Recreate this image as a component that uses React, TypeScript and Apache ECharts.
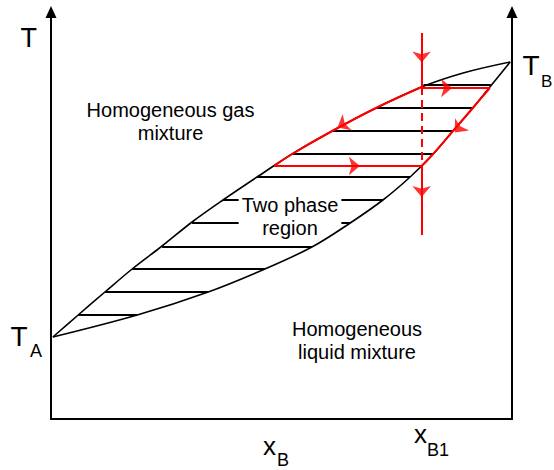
import React, { useEffect, useRef } from "react";
import * as echarts from "echarts";

// composition of the mixture that is followed (x_B1), in % B
const X_B1 = 80.4;

// vapour (dew-point) curve: composition x_B (%) and temperature T (arbitrary units)
const upperCurveX = [0.4, 5.9, 11.7, 17.6, 24.1, 30.6, 37.3, 44.7, 52.3, 61.0, 70.5, 80.4, 89.4, 99.6];
const upperCurveT = [20.5, 26, 31.75, 37.5, 43.25, 49.25, 54.75, 60.5, 66.25, 72, 77.75, 83, 86.5, 89.25];

// liquid (bubble-point) curve
const lowerCurveX = [0.4, 18.7, 34.1, 46.4, 56.6, 64.9, 72.0, 77.9, 82.9, 87.2, 91.5, 95.2, 99.6];
const lowerCurveT = [20.5, 26, 31.75, 37.5, 43, 49, 54.75, 60.5, 66.25, 72, 77.75, 83, 89.25];

// horizontal tie lines in the two-phase region
const tieT = [26, 31.75, 37.5, 43, 49, 54.75, 60.5, 66.25, 72, 77.75, 83.5];
const tieLeftX = [5.9, 11.7, 17.6, 24.1, 30.6, 37.3, 44.7, 52.3, 61.0, 70.5, 80.8];
const tieRightX = [18.7, 34.1, 46.4, 56.6, 64.9, 72.0, 77.9, 82.9, 87.2, 91.5, 95.4];

// red cycle
const redUpperX = [48.4, 52.3, 61.0, 70.5, 80.4];
const redUpperT = [63.25, 66.25, 72, 77.75, 83];
const redLowerX = [80.4, 82.9, 87.2, 91.5, 95.2];
const redLowerT = [63.25, 66.25, 72, 77.75, 82.75];
const redTopT = 82.75;
const redTopRightX = 95.2;
const redBottomT = 63.25;
const redBottomLeftX = 48.4;
const redVerticalTopT = 96.5;
const redVerticalDashTopT = 83;
const redVerticalBottomT = 46;

// arrow heads on the red path: [x, T, rotation deg]
const arrowX = [X_B1, X_B1, 87.0, 67.0, 62.15, 87.6];
const arrowT = [89.1, 55.5, 82.75, 63.25, 72.9, 71.6];
const arrowRot = [180, 180, -90, -90, 118.7, 139];

const FONT = '"Liberation Sans", Arial, sans-serif';

const zip = (xs: number[], ys: number[]) => xs.map((x, i) => [x, ys[i]]);

function txt(text: string, x: number, y: number, size: number, align: string, vAlign: string, extra: any = {}, z = 100) {
  return {
    type: "text",
    x,
    y,
    z,
    silent: true,
    style: {
      text,
      font: `${size}px ${FONT}`,
      fill: "#000",
      align,
      verticalAlign: vAlign,
      textAlign: align,
      textVerticalAlign: vAlign,
      ...extra,
    },
  };
}

export default function App() {
  const ref = useRef<HTMLDivElement>(null);
  useEffect(() => {
    if (!ref.current) return;
    const chart = echarts.init(ref.current, null, { renderer: "svg" });
    const axisStyle = { color: "#000", width: 2 };
    const yAxisBase = {
      type: "value",
      min: 0,
      max: 101.75,
      axisLine: {
        show: true,
        onZero: false,
        symbol: ["none", "triangle"],
        symbolSize: [11, 12],
        lineStyle: axisStyle,
      },
      axisTick: { show: false },
      axisLabel: { show: false },
      splitLine: { show: false },
    };
    const ties = tieT.map((t, i) => ({ coords: [[tieLeftX[i], t], [tieRightX[i], t]] }));
    const redSolid = { color: "#ff0000", width: 2, type: "solid" };
    const redDashed = { color: "#ff0000", width: 2, type: [8, 5] };
    const curve = (xs: number[], ts: number[], color: string, width: number, z: number) => ({
      type: "line",
      data: zip(xs, ts),
      smooth: 0.35,
      showSymbol: false,
      silent: true,
      lineStyle: { color, width },
      z,
    });
    chart.setOption({
      animation: false,
      backgroundColor: "#fff",
      grid: { left: 51, right: 42, top: 12, bottom: 51, containLabel: false, outerBoundsMode: "none" },
      xAxis: {
        type: "value",
        min: 0,
        max: 100,
        axisLine: { show: true, onZero: false, lineStyle: axisStyle },
        axisTick: { show: false },
        axisLabel: { show: false },
        splitLine: { show: false },
      },
      yAxis: [
        { ...yAxisBase, position: "left" },
        { ...yAxisBase, position: "right" },
      ],
      series: [
        curve(upperCurveX, upperCurveT, "#000", 1.6, 5),
        curve(lowerCurveX, lowerCurveT, "#000", 1.6, 5),
        {
          type: "lines",
          coordinateSystem: "cartesian2d",
          data: ties,
          silent: true,
          lineStyle: { color: "#000", width: 1.8, opacity: 1 },
          z: 1,
        },
        curve(redUpperX, redUpperT, "#ff0000", 2, 6),
        curve(redLowerX, redLowerT, "#ff0000", 2, 6),
        {
          type: "lines",
          coordinateSystem: "cartesian2d",
          silent: true,
          z: 6,
          lineStyle: { color: "#ff0000", width: 2, opacity: 1 },
          data: [
            { coords: [[X_B1, redTopT], [redTopRightX, redTopT]], lineStyle: redSolid },
            { coords: [[redBottomLeftX, redBottomT], [X_B1, redBottomT]], lineStyle: redSolid },
            { coords: [[X_B1, redVerticalTopT], [X_B1, redVerticalDashTopT]], lineStyle: redSolid },
            { coords: [[X_B1, redVerticalDashTopT], [X_B1, redBottomT]], lineStyle: redDashed },
            { coords: [[X_B1, redBottomT], [X_B1, redVerticalBottomT]], lineStyle: redSolid },
          ],
        },
        {
          type: "scatter",
          silent: true,
          z: 7,
          symbol: "arrow",
          symbolSize: [14, 11],
          itemStyle: { color: "#ff0000" },
          data: arrowX.map((x, i) => ({ value: [x, arrowT[i]], symbolRotate: arrowRot[i] })),
        },
      ],
      graphic: [
        txt("Homogeneous gas\nmixture", 170.5, 98.6, 20, "center", "top", { lineHeight: 23 }),
        txt(
          "Two phase\nregion",
          290,
          193.6,
          20,
          "center",
          "top",
          { lineHeight: 23, backgroundColor: "#fff", padding: [0, 3] },
          3
        ),
        txt("Homogeneous\nliquid mixture", 357, 317.6, 20, "center", "top", { lineHeight: 23 }),
        txt("T", 20.5, 37.6, 27, "left", "middle"),
        txt("T", 10.4, 336.3, 28, "left", "middle"),
        txt("A", 30, 351.1, 18, "left", "middle"),
        txt("T", 522.4, 65.3, 28, "left", "middle"),
        txt("B", 541, 81.1, 17, "left", "middle"),
        txt("x", 263, 446, 26, "left", "middle"),
        txt("B", 277, 459.8, 18, "left", "middle"),
        txt("x", 414, 434, 26, "left", "middle"),
        txt("B1", 427, 449.8, 18, "left", "middle"),
      ],
    });
    return () => chart.dispose();
  }, []);
  return (
    <div
      ref={ref}
      style={{ position: "fixed", left: 0, top: 0, width: 554, height: 470, background: "#fff" }}
    />
  );
}
